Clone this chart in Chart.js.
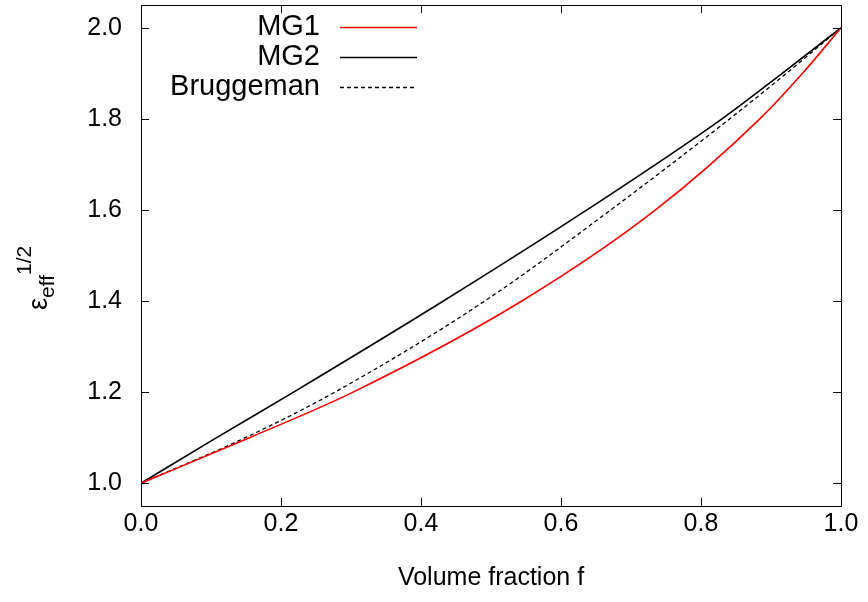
<!DOCTYPE html>
<html>
<head>
<meta charset="utf-8">
<script src="https://cdn.jsdelivr.net/npm/chart.js@4.4.1/dist/chart.umd.min.js"></script>
<style>
    html, body { margin: 0; padding: 0; background: #ffffff; }
    #wrap { width: 868px; height: 602px; }
</style>
</head>
<body>
<div id="wrap"><canvas id="effChart" width="868" height="602"></canvas></div>
<script>
// sqrt(eps_eff) levels, and the volume fraction where each curve crosses them
const levels = [1.0, 1.1, 1.2, 1.4, 1.6, 1.8, 1.9, 2.0];
const mg1Frac = [0, 0.155, 0.303, 0.544, 0.735, 0.884, 0.945, 1];
const mg2Frac = [0, 0.108, 0.218, 0.432, 0.637, 0.830, 0.916, 1];
const bruggemanFrac = [0, 0.149, 0.277, 0.491, 0.671, 0.841, 0.922, 1];

const seriesNames = ['MG1', 'MG2', 'Bruggeman'];
const xTicks = [0, 0.2, 0.4, 0.6, 0.8, 1.0];
const yTicks = [1.0, 1.2, 1.4, 1.6, 1.8, 2.0];

const FONT = '"Liberation Sans", Arial, Helvetica, sans-serif';

function toPoints(frac) {
    return levels.map(function (y, i) {
        return { x: frac[i], y: y };
    });
}

const framePlugin = {
    id: 'gnuFrame',
    afterDraw: function (chart) {
        const ctx = chart.ctx;
        const area = chart.chartArea;
        const xs = chart.scales.x;
        const ys = chart.scales.y;
        const tick = 8;

        ctx.save();
        ctx.strokeStyle = '#000';
        ctx.lineWidth = 1;
        ctx.strokeRect(area.left + 0.5, area.top + 0.5, area.right - area.left, area.bottom - area.top);

        ctx.beginPath();
        xTicks.forEach(function (v) {
            const px = Math.round(xs.getPixelForValue(v)) + 0.5;
            ctx.moveTo(px, area.bottom);
            ctx.lineTo(px, area.bottom - tick);
            ctx.moveTo(px, area.top);
            ctx.lineTo(px, area.top + tick);
        });
        yTicks.forEach(function (v) {
            const py = Math.round(ys.getPixelForValue(v)) + 0.5;
            ctx.moveTo(area.left, py);
            ctx.lineTo(area.left + tick, py);
            ctx.moveTo(area.right, py);
            ctx.lineTo(area.right - tick, py);
        });
        ctx.stroke();

        // legend, gnuplot style: right aligned text, line sample after it
        const rows = [27, 57, 87];
        chart.data.datasets.forEach(function (ds, i) {
            ctx.font = '29px ' + FONT;
            ctx.fillStyle = '#000';
            ctx.textAlign = 'right';
            ctx.textBaseline = 'middle';
            ctx.fillText(ds.label, 320, rows[i]);

            ctx.beginPath();
            ctx.strokeStyle = ds.borderColor;
            ctx.lineWidth = ds.borderWidth;
            ctx.setLineDash(ds.borderDash || []);
            ctx.moveTo(340, rows[i] + 0.5);
            ctx.lineTo(417, rows[i] + 0.5);
            ctx.stroke();
            ctx.setLineDash([]);
        });

        // y axis title: eps_eff^(1/2)
        ctx.translate(47, 310);
        ctx.rotate(-Math.PI / 2);
        ctx.fillStyle = '#000';
        ctx.textAlign = 'left';
        ctx.textBaseline = 'alphabetic';
        ctx.font = '27px ' + FONT;
        ctx.fillText('ε', 0, 0);
        let w = ctx.measureText('ε').width;
        ctx.font = '21px ' + FONT;
        ctx.fillText('eff', w, 7);
        w += ctx.measureText('eff').width;
        ctx.fillText('1/2', w, -16);
        ctx.restore();
    }
};

new Chart(document.getElementById('effChart'), {
    type: 'scatter',
    data: {
        datasets: [{
            label: seriesNames[0],
            data: toPoints(mg1Frac),
            borderColor: '#ff0000',
            borderWidth: 1.6
        }, {
            label: seriesNames[1],
            data: toPoints(mg2Frac),
            borderColor: '#000000',
            borderWidth: 1.6
        }, {
            label: seriesNames[2],
            data: toPoints(bruggemanFrac),
            borderColor: '#000000',
            borderWidth: 1.3,
            borderDash: [4, 3]
        }]
    },
    options: {
        responsive: false,
        animation: false,
        showLine: true,
        layout: {
            padding: { left: 0, right: 27, top: 5, bottom: 0 }
        },
        elements: {
            point: { radius: 0, hoverRadius: 0 },
            line: { cubicInterpolationMode: 'monotone', fill: false }
        },
        plugins: {
            legend: { display: false },
            tooltip: { enabled: false }
        },
        scales: {
            x: {
                type: 'linear',
                min: 0,
                max: 1,
                grid: { display: false, drawTicks: false },
                border: { display: false },
                afterBuildTicks: function (scale) {
                    scale.ticks = xTicks.map(function (v) { return { value: v }; });
                },
                afterFit: function (scale) {
                    scale.height = 96;
                    scale.paddingLeft = 0;
                    scale.paddingRight = 0;
                },
                ticks: {
                    padding: 3,
                    color: '#000',
                    font: { family: FONT, size: 25 },
                    maxRotation: 0,
                    callback: function (v) { return Number(v).toFixed(1); }
                },
                title: {
                    display: true,
                    text: 'Volume fraction f',
                    color: '#000',
                    font: { family: FONT, size: 25 },
                    padding: { top: 0, bottom: 9 }
                }
            },
            y: {
                type: 'linear',
                min: 0.95,
                max: 2.05,
                grid: { display: false, drawTicks: false },
                border: { display: false },
                afterBuildTicks: function (scale) {
                    scale.ticks = yTicks.map(function (v) { return { value: v }; });
                },
                afterFit: function (scale) {
                    scale.width = 141;
                    scale.paddingTop = 0;
                    scale.paddingBottom = 0;
                },
                ticks: {
                    padding: 19,
                    color: '#000',
                    font: { family: FONT, size: 25 },
                    callback: function (v) { return Number(v).toFixed(1); }
                }
            }
        }
    },
    plugins: [framePlugin]
});
</script>
</body>
</html>
